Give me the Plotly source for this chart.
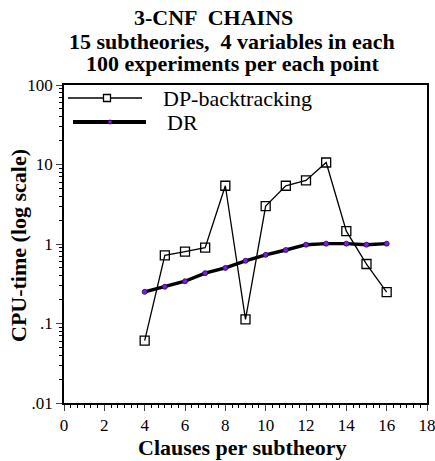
import plotly.graph_objects as go

clauses = [4, 5, 6, 7, 8, 9, 10, 11, 12, 13, 14, 15, 16]
dp_time = [0.061, 0.72, 0.80, 0.90, 5.4, 0.113, 3.0, 5.4, 6.3, 10.6, 1.45, 0.56, 0.248]
dr_time = [0.25, 0.29, 0.34, 0.43, 0.50, 0.615, 0.73, 0.84, 0.98, 1.01, 1.01, 0.98, 1.01]
y_tickvals = [0.01, 0.1, 1, 10, 100]
y_ticktext = [".01", ".1", "1", "10", "100"]
x_tickvals = [0, 2, 4, 6, 8, 10, 12, 14, 16, 18]
title_lines = ["3-CNF  CHAINS", "15 subtheories,  4 variables in each", "100 experiments per each point"]
series_names = ["DP-backtracking", "DR"]

FONT = "Liberation Serif"
W, H = 435, 461
# plot area in pixels
L, R, T, B = 64, 427, 85, 403


def px(x):
    return (x - L) / (R - L)


def py(y):
    return (B - y) / (B - T)


DP_LINE = dict(color="black", width=1.3)
DP_MARK = dict(symbol="square-open", size=9, color="black", line=dict(width=1.3))
DR_LINE = dict(color="black", width=3.4)
DR_MARK = dict(symbol="circle", size=5, color="#7a1fe0", line=dict(color="#2a0060", width=0.8))

fig = go.Figure()
fig.add_trace(go.Scatter(x=clauses, y=dp_time, name=series_names[0], mode="lines+markers",
                         line=DP_LINE, marker=DP_MARK))
fig.add_trace(go.Scatter(x=clauses, y=dr_time, name=series_names[1], mode="lines+markers",
                         line=DR_LINE, marker=DR_MARK))

annotations = []
for text, (cx, cy) in zip(title_lines, [(213, 18), (232, 41), (233, 63)]):
    annotations.append(dict(text="<b>%s</b>" % text, x=px(cx), y=py(cy), xref="paper", yref="paper",
                            xanchor="center", yanchor="middle", showarrow=False,
                            font=dict(family=FONT, size=22, color="black")))
annotations.append(dict(text="<b>Clauses per subtheory</b>", x=px(242), y=py(447), xref="paper", yref="paper",
                        xanchor="center", yanchor="middle", showarrow=False,
                        font=dict(family=FONT, size=22, color="black")))
annotations.append(dict(text="<b>CPU-time (log scale)</b>", x=px(18), y=py(246), xref="paper", yref="paper",
                        xanchor="center", yanchor="middle", showarrow=False, textangle=-90,
                        font=dict(family=FONT, size=22, color="black")))
annotations.append(dict(text=series_names[0], x=px(161), y=py(98), xref="paper", yref="paper",
                        xanchor="left", yanchor="middle", showarrow=False,
                        font=dict(family=FONT, size=22, color="black")))
annotations.append(dict(text=series_names[1], x=px(165), y=py(122), xref="paper", yref="paper",
                        xanchor="left", yanchor="middle", showarrow=False,
                        font=dict(family=FONT, size=22, color="black")))

shapes = [
    dict(type="line", xref="paper", yref="paper", x0=px(68), x1=px(142), y0=py(98), y1=py(98),
         line=dict(color="black", width=1.5)),
    dict(type="rect", xref="paper", yref="paper", x0=px(103.5), x1=px(110.5), y0=py(94.5), y1=py(101.5),
         line=dict(color="black", width=1.3), fillcolor="white"),
    dict(type="line", xref="paper", yref="paper", x0=px(73), x1=px(146), y0=py(122), y1=py(122),
         line=dict(color="black", width=4)),
    dict(type="circle", xref="paper", yref="paper", x0=px(108), x1=px(112), y0=py(120), y1=py(124),
         line=dict(color="#2a0060", width=0.8), fillcolor="#7a1fe0"),
]

fig.update_layout(
    width=W, height=H,
    margin=dict(l=L, r=W - R, t=T, b=H - B, autoexpand=False),
    paper_bgcolor="white", plot_bgcolor="white",
    font=dict(family=FONT, color="black", size=17),
    showlegend=False,
    annotations=annotations,
    shapes=shapes,
    xaxis=dict(
        range=[0, 18], tickvals=x_tickvals, ticks="outside", ticklen=6, tickwidth=1.2,
        showline=True, linecolor="black", linewidth=1.6, mirror=True, showgrid=False, zeroline=False,
        minor=dict(ticks="outside", ticklen=3, dtick=1/3, tick0=0, tickcolor="black", showgrid=False),
        tickfont=dict(family=FONT, size=17), automargin=False, ticklabeloverflow="allow",
    ),
    yaxis=dict(
        type="log", range=[-2, 2], tickvals=y_tickvals, ticktext=y_ticktext,
        ticks="outside", ticklen=6, tickwidth=1.2,
        showline=True, linecolor="black", linewidth=1.6, mirror=True, showgrid=False, zeroline=False,
        minor=dict(ticks="outside", ticklen=3, dtick="D1", tickcolor="black", showgrid=False),
        tickfont=dict(family=FONT, size=17), automargin=False, ticklabeloverflow="allow",
    ),
)

fig.write_html(
    "out.html",
    config={"displayModeBar": False},
    post_script="document.body.style.margin='0';document.body.style.overflow='hidden';",
)
